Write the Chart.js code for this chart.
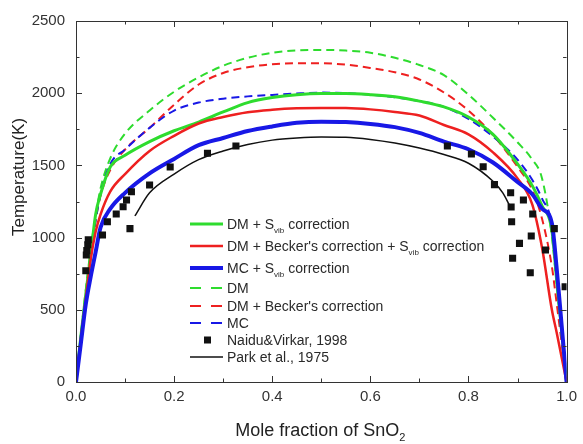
<!DOCTYPE html>
<html>
<head>
<meta charset="utf-8">
<script src="https://cdn.jsdelivr.net/npm/chart.js@4.4.1/dist/chart.umd.min.js"></script>
<style>
  html, body { margin: 0; padding: 0; background: #fff; }
  canvas { display: block; }
</style>
</head>
<body>
<canvas id="phase-chart" width="583" height="444"></canvas>
<script>
// SnO2 phase diagram: model liquidus/solvus curves vs. experimental data

// shared composition grid for the model curves
const xModel = [0, 0.01, 0.02, 0.03, 0.04, 0.05, 0.07, 0.1, 0.15, 0.2, 0.25, 0.3, 0.35, 0.4, 0.45,
                0.5, 0.55, 0.6, 0.65, 0.7, 0.75, 0.8, 0.85, 0.9, 0.93, 0.95, 0.97, 0.98, 0.99, 1];

const tDMSvib       = [0, 320, 610, 880, 1160, 1300, 1490, 1570, 1665, 1740, 1800, 1870, 1935, 1970, 1990,
                       1998, 1998, 1990, 1975, 1945, 1905, 1835, 1715, 1510, 1360, 1220, 1050, 700, 350, 0];
const tDMBeckerSvib = [0, 300, 580, 850, 1040, 1160, 1320, 1440, 1600, 1705, 1790, 1835, 1868, 1885, 1895,
                       1898, 1897, 1888, 1870, 1845, 1780, 1715, 1590, 1410, 1230, 930, 500, 340, 170, 0];
const tMCSvib       = [0, 270, 540, 730, 900, 1070, 1200, 1310, 1445, 1545, 1640, 1690, 1738, 1770, 1795,
                       1803, 1800, 1787, 1765, 1725, 1665, 1612, 1520, 1385, 1300, 1200, 1100, 780, 390, 0];
const tDM           = [0, 330, 640, 920, 1150, 1340, 1550, 1720, 1880, 2010, 2110, 2190, 2245, 2280, 2296,
                       2300, 2295, 2280, 2245, 2195, 2125, 1990, 1830, 1660, 1540, 1410, 1010, 674, 337, 0];
const tDMBecker     = [0, 300, 600, 880, 1120, 1290, 1470, 1610, 1760, 1920, 2060, 2140, 2180, 2200, 2207,
                       2207, 2198, 2175, 2145, 2095, 2005, 1880, 1710, 1490, 1330, 1130, 800, 540, 270, 0];
const tMC           = [0, 300, 590, 880, 1120, 1300, 1510, 1610, 1760, 1880, 1935, 1962, 1978, 1988, 1998,
                       2004, 2000, 1990, 1972, 1945, 1905, 1822, 1700, 1540, 1400, 1270, 1080, 720, 360, 0];

// Park et al., 1975
const xPark = [0.12, 0.15, 0.2, 0.25, 0.3, 0.35, 0.4, 0.45, 0.5, 0.55, 0.6, 0.65, 0.7, 0.75, 0.8, 0.85, 0.87, 0.885];
const tPark = [1150, 1310, 1440, 1540, 1600, 1645, 1675, 1690, 1697, 1695, 1680, 1655, 1620, 1575, 1515, 1390, 1310, 1215];

// Naidu & Virkar, 1998
const xNaidu = [0.02, 0.021, 0.022, 0.024, 0.025, 0.054, 0.064, 0.082, 0.096, 0.103, 0.113, 0.11, 0.15, 0.192, 0.268, 0.326,
                0.757, 0.806, 0.83, 0.853, 0.886, 0.887, 0.888, 0.912, 0.931, 0.975, 0.904, 0.89, 0.928, 0.957, 0.926, 0.997];
const tNaidu = [770, 880, 910, 950, 985, 1018, 1110, 1163, 1214, 1260, 1318, 1062, 1364, 1489, 1584, 1634,
                1634, 1579, 1491, 1367, 1311, 1212, 1110, 1260, 1163, 1062, 960, 857, 1011, 914, 757, 660];

const xTickLabels = ['0.0', '0.2', '0.4', '0.6', '0.8', '1.0'];
const yTickLabels = ['0', '500', '1000', '1500', '2000', '2500'];

const FONT = 'Arial, "Liberation Sans", Helvetica, sans-serif';
const GREEN = '#2edc2e', RED = '#ee2020', BLUE = '#1818e6', BLACK = '#111';

const pts = (xs, ys) => xs.map((x, i) => ({ x, y: ys[i] }));

function curve(label, ys, color, width, dash, order) {
  return {
    label, data: pts(xModel, ys), showLine: true, borderColor: color, backgroundColor: color,
    borderWidth: width, borderDash: dash, pointRadius: 0, cubicInterpolationMode: 'monotone', order
  };
}

const datasets = [
  curve('DM + S_{vib} correction', tDMSvib, GREEN, 3, [], 4),
  curve("DM + Becker's correction + S_{vib} correction", tDMBeckerSvib, RED, 2.5, [], 3),
  curve('MC + S_{vib} correction', tMCSvib, BLUE, 4, [], 2),
  curve('DM', tDM, GREEN, 2, [8, 5], 7),
  curve("DM + Becker's correction", tDMBecker, RED, 2, [8, 5], 6),
  curve('MC', tMC, BLUE, 2, [8, 5], 5),
  { label: 'Naidu&Virkar, 1998', data: pts(xNaidu, tNaidu), showLine: false, pointStyle: 'rect',
    pointRadius: 5, pointBackgroundColor: BLACK, pointBorderWidth: 0, order: 0 },
  { label: 'Park et al., 1975', data: pts(xPark, tPark), showLine: true, borderColor: BLACK, borderWidth: 1.5,
    pointRadius: 0, cubicInterpolationMode: 'monotone', order: 1 }
];

function drawRich(ctx, text, x, y, size) {
  text.split(/_\{([^}]*)\}/).forEach((p, i) => {
    if (!p) return;
    const sub = i % 2 === 1;
    ctx.font = `${sub ? Math.round(size * 0.6) : size}px ${FONT}`;
    ctx.fillText(p, x, y + (sub ? size * 0.3 : 0));
    x += ctx.measureText(p).width;
  });
}

// inner ticks on all four sides + box frame, titles and legend
const framePlugin = {
  id: 'frame',
  afterDatasetsDraw(chart) {
    const { ctx, chartArea: a, scales: { x, y } } = chart;
    ctx.save();
    ctx.strokeStyle = '#333';
    ctx.lineWidth = 1;
    ctx.strokeRect(Math.round(a.left) + 0.5, Math.round(a.top) + 0.5, Math.round(a.right - a.left), Math.round(a.bottom - a.top));
    const marks = (scale) => {
      const v = scale.ticks.map(t => t.value), out = [];
      v.forEach((t, i) => {
        out.push([scale.getPixelForValue(t), 6]);
        if (i < v.length - 1) out.push([scale.getPixelForValue((t + v[i + 1]) / 2), 3.5]);
      });
      return out;
    };
    ctx.beginPath();
    marks(x).forEach(([px, len]) => {
      px = Math.round(px) + 0.5;
      ctx.moveTo(px, a.bottom); ctx.lineTo(px, a.bottom - len);
      ctx.moveTo(px, a.top); ctx.lineTo(px, a.top + len);
    });
    marks(y).forEach(([py, len]) => {
      py = Math.round(py) + 0.5;
      ctx.moveTo(a.left, py); ctx.lineTo(a.left + len, py);
      ctx.moveTo(a.right, py); ctx.lineTo(a.right - len, py);
    });
    ctx.stroke();
    ctx.restore();
  },
  afterDraw(chart) {
    const { ctx, chartArea: a } = chart;
    ctx.save();
    ctx.fillStyle = '#222';
    ctx.textBaseline = 'alphabetic';

    // x title with subscript
    ctx.font = `18px ${FONT}`;
    const w = ctx.measureText('Mole fraction of SnO').width + 8;
    drawRich(ctx, 'Mole fraction of SnO_{2}', (a.left + a.right) / 2 - w / 2, 436, 18);

    // y title
    ctx.translate(24, 177);
    ctx.rotate(-Math.PI / 2);
    ctx.font = `17px ${FONT}`;
    ctx.textAlign = 'center';
    ctx.fillText('Temperature(K)', 0, 0);
    ctx.restore();

    // legend
    ctx.save();
    const rows = [224, 246, 268, 288, 306, 323, 340, 357];
    datasets.forEach((ds, i) => {
      const ry = rows[i];
      ctx.strokeStyle = ds.borderColor || BLACK;
      ctx.fillStyle = ds.pointBackgroundColor || ds.borderColor;
      if (ds.showLine) {
        ctx.lineWidth = ds.borderWidth;
        ctx.setLineDash(ds.borderDash && ds.borderDash.length ? [11, 10] : []);
        ctx.beginPath();
        ctx.moveTo(190, ry); ctx.lineTo(223, ry);
        ctx.stroke();
      } else {
        ctx.fillRect(204, ry - 3.5, 7, 7);
      }
      ctx.fillStyle = '#2a2a2a';
      drawRich(ctx, ds.label, 227, ry + 5, 14);
    });
    ctx.restore();
  }
};

new Chart(document.getElementById('phase-chart'), {
  type: 'scatter',
  data: { datasets },
  plugins: [framePlugin],
  options: {
    responsive: false,
    animation: false,
    devicePixelRatio: 1,
    layout: { padding: { top: 21, right: 14, left: 0, bottom: 0 } },
    plugins: { legend: { display: false }, tooltip: { enabled: false } },
    scales: {
      x: {
        type: 'linear', min: 0, max: 1,
        grid: { display: false, drawTicks: false },
        border: { display: false },
        ticks: {
          stepSize: 0.2, padding: 6, color: '#333', font: { family: FONT, size: 15 },
          maxRotation: 0,
          callback: (v, i) => xTickLabels[i]
        },
        afterFit: s => { s.height = 62; }
      },
      y: {
        type: 'linear', min: 0, max: 2500,
        grid: { display: false, drawTicks: false },
        border: { display: false },
        ticks: {
          stepSize: 500, padding: 11, color: '#333', font: { family: FONT, size: 15 },
          callback: (v, i) => yTickLabels[i]
        },
        afterFit: s => { s.width = 76; }
      }
    }
  }
});
</script>
</body>
</html>
